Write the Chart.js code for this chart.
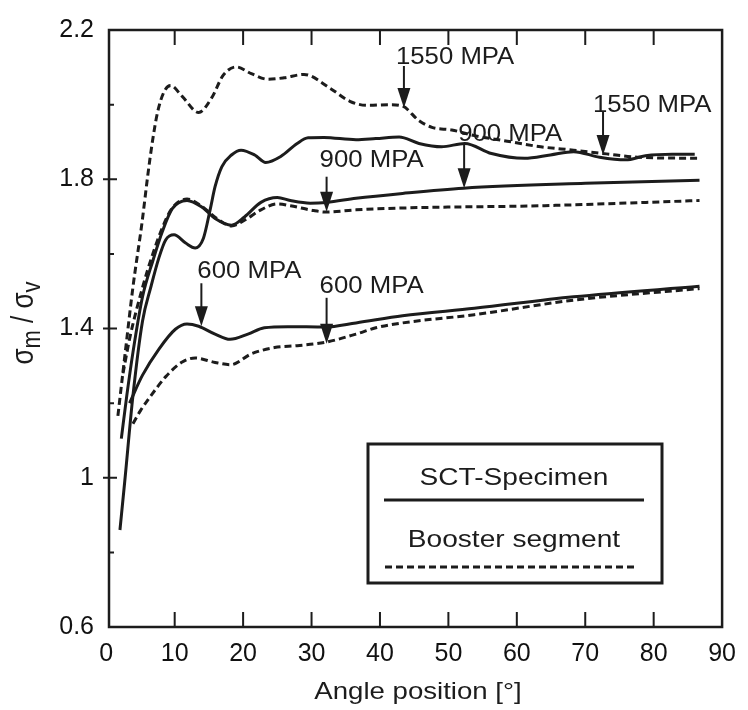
<!DOCTYPE html>
<html>
<head>
<meta charset="utf-8">
<script src="https://cdn.jsdelivr.net/npm/chart.js@4.4.1/dist/chart.umd.min.js"></script>
<style>
  html, body { margin: 0; padding: 0; background: #fff; }
  #wrap { width: 748px; height: 710px; }
</style>
</head>
<body>
<div id="wrap"><canvas id="chart" width="748" height="710"></canvas></div>
<script>
// SCT specimen, 1550 MPa
const sct1550Angle = [2.0, 2.7, 3.9, 5.3, 6.5, 7.7, 8.7, 9.9, 11.6, 13.0, 14.2, 15.2, 15.9, 16.9, 18.3, 19.7, 21.7, 23.3, 25.5, 27.9, 29.5, 31.8, 36.5, 39.4, 42.8, 45.7, 49.0, 52.4, 56.3, 61.1, 64.9, 68.3, 72.1, 75.9, 78.8, 82.7, 86.0];
const sct1550Ratio = [0.86, 0.99, 1.22, 1.42, 1.51, 1.59, 1.638, 1.651, 1.629, 1.616, 1.642, 1.72, 1.78, 1.834, 1.865, 1.878, 1.865, 1.845, 1.861, 1.896, 1.911, 1.912, 1.906, 1.909, 1.913, 1.896, 1.887, 1.896, 1.869, 1.856, 1.865, 1.874, 1.859, 1.852, 1.863, 1.867, 1.867];

// booster segment, 1550 MPa
const booster1550Angle = [1.7, 2.8, 3.9, 5.24, 6.05, 6.77, 7.49, 8.46, 9.42, 11.1, 13.5, 15.4, 17.1, 19.0, 21.2, 23.6, 26.0, 28.9, 32.7, 35.6, 38.2, 41.4, 43.3, 45.7, 47.6, 50.5, 53.8, 58.6, 63.5, 68.3, 73.1, 77.9, 86.7];
const booster1550Ratio = [1.166, 1.34, 1.511, 1.686, 1.808, 1.904, 1.979, 2.035, 2.051, 2.022, 1.979, 2.018, 2.079, 2.101, 2.083, 2.068, 2.072, 2.081, 2.044, 2.009, 1.998, 2.0, 1.996, 1.957, 1.939, 1.932, 1.917, 1.902, 1.887, 1.878, 1.868, 1.859, 1.856];

// SCT specimen, 900 MPa
const sct900Angle = [2.2, 3.0, 3.9, 5.3, 6.8, 8.2, 9.65, 11.8, 14.0, 15.9, 18.3, 20.2, 22.6, 25.0, 26.9, 29.8, 32.2, 36.5, 43.3, 52.2, 70.0, 86.7];
const sct900Ratio = [1.105, 1.22, 1.336, 1.485, 1.581, 1.66, 1.721, 1.743, 1.725, 1.695, 1.677, 1.699, 1.738, 1.751, 1.743, 1.736, 1.738, 1.749, 1.762, 1.776, 1.789, 1.797];

// booster segment, 900 MPa
const booster900Angle = [2.45, 3.5, 5.3, 6.8, 8.2, 9.6, 11.8, 14.0, 16.0, 18.3, 20.2, 22.6, 25.0, 26.9, 30.3, 32.2, 36.5, 43.3, 63.5, 86.7];
const booster900Ratio = [1.28, 1.38, 1.51, 1.6, 1.67, 1.722, 1.747, 1.727, 1.697, 1.675, 1.69, 1.718, 1.734, 1.729, 1.716, 1.712, 1.718, 1.723, 1.729, 1.743];

// SCT specimen, 600 MPa
const sct600Angle = [3.4, 5.3, 7.7, 10.1, 11.8, 13.5, 15.9, 18.1, 20.7, 23.1, 26.5, 32.0, 36.5, 43.3, 53.8, 68.3, 86.7];
const sct600Ratio = [1.2, 1.275, 1.345, 1.398, 1.412, 1.406, 1.385, 1.371, 1.385, 1.402, 1.405, 1.404, 1.415, 1.434, 1.454, 1.485, 1.513];

// booster segment, 600 MPa
const booster600Angle = [3.9, 5.0, 6.3, 8.7, 11.1, 13.0, 15.9, 18.2, 21.2, 24.6, 27.9, 32.0, 36.5, 39.4, 43.3, 53.8, 68.3, 86.7];
const booster600Ratio = [1.145, 1.18, 1.214, 1.271, 1.31, 1.321, 1.309, 1.303, 1.332, 1.349, 1.354, 1.363, 1.385, 1.402, 1.415, 1.437, 1.476, 1.507];

const xTickValues = [0, 10, 20, 30, 40, 50, 60, 70, 80, 90];
const yTickValues = [0.6, 1, 1.4, 1.8, 2.2];
const yMinorValues = [0.8, 1.2, 1.6, 2.0];

// pressure labels, arrow tip in data units
const noteText = ['1550 MPA', '1550 MPA', '900 MPA', '900 MPA', '600 MPA', '600 MPA'];
const noteAngle = [43.5, 72.6, 52.3, 32.2, 13.9, 32.2];
const noteRatio = [1.991, 1.865, 1.776, 1.713, 1.406, 1.359];

const legendText = ['SCT-Specimen', 'Booster segment'];

const INK = '#1c1c1c';
const FONT = '"Liberation Sans", Arial, Helvetica, sans-serif';
const DASH = [7, 4];

// arrow shaft length, label rise above the tip, label shift from the arrow (px)
const noteShaft = [42, 43, 44, 35, 43, 46];
const noteRise = [44, 43, 47, 45, 48, 51];
const noteShift = [-8, -10, -6, -7, -4, -7];

function toPoints(xs, ys) {
  return xs.map((x, i) => ({ x: x, y: ys[i] }));
}

function curve(xs, ys, dashed) {
  return {
    data: toPoints(xs, ys),
    borderColor: INK,
    borderWidth: 3,
    borderDash: dashed ? DASH : [],
    pointRadius: 0,
    fill: false,
    cubicInterpolationMode: 'monotone'
  };
}

// text drawn a bit wider than the font's natural width
function wideText(ctx, str, x, y, size, sx, align) {
  ctx.save();
  ctx.font = size + 'px ' + FONT;
  ctx.textBaseline = 'alphabetic';
  ctx.textAlign = align || 'left';
  ctx.translate(x, y);
  ctx.scale(sx, 1);
  ctx.fillText(str, 0, 0);
  ctx.restore();
}

const framePlugin = {
  id: 'frame',
  afterDatasetsDraw(chart) {
    const { ctx, chartArea: a, scales } = chart;
    const xs = scales.x, ys = scales.y;
    ctx.save();
    ctx.strokeStyle = INK;
    ctx.fillStyle = INK;

    // box around the plot
    ctx.lineWidth = 2.5;
    ctx.strokeRect(a.left, a.top, a.right - a.left, a.bottom - a.top);

    // inward ticks
    ctx.lineWidth = 2;
    ctx.beginPath();
    xTickValues.slice(1, -1).forEach(v => {
      const px = xs.getPixelForValue(v);
      ctx.moveTo(px, a.bottom); ctx.lineTo(px, a.bottom - 15);
      ctx.moveTo(px, a.top); ctx.lineTo(px, a.top + 15);
    });
    yTickValues.slice(1, -1).forEach(v => {
      const py = ys.getPixelForValue(v);
      ctx.moveTo(a.left - 6, py); ctx.lineTo(a.left + 8, py);
    });
    yMinorValues.forEach(v => {
      const py = ys.getPixelForValue(v);
      ctx.moveTo(a.left, py); ctx.lineTo(a.left + 5, py);
    });
    ctx.stroke();

    // pressure arrows and labels
    noteText.forEach((txt, i) => {
      const tx = xs.getPixelForValue(noteAngle[i]);
      const ty = ys.getPixelForValue(noteRatio[i]);
      ctx.lineWidth = 2;
      ctx.beginPath();
      ctx.moveTo(tx, ty - noteShaft[i]);
      ctx.lineTo(tx, ty - 18);
      ctx.stroke();
      ctx.beginPath();
      ctx.moveTo(tx - 6.5, ty - 20);
      ctx.lineTo(tx + 6.5, ty - 20);
      ctx.lineTo(tx, ty);
      ctx.closePath();
      ctx.fill();
      wideText(ctx, txt, tx + noteShift[i], ty - noteRise[i], 23, 1.12, 'left');
    });

    // legend box
    ctx.lineWidth = 3;
    ctx.strokeRect(368, 444, 294, 139);
    wideText(ctx, legendText[0], 514, 485, 24, 1.17, 'center');
    wideText(ctx, legendText[1], 514, 547, 24, 1.17, 'center');
    ctx.beginPath();
    ctx.moveTo(384, 500); ctx.lineTo(644, 500);
    ctx.stroke();
    ctx.setLineDash(DASH);
    ctx.beginPath();
    ctx.moveTo(385, 567); ctx.lineTo(638, 567);
    ctx.stroke();
    ctx.setLineDash([]);

    // axis titles
    wideText(ctx, 'Angle position [°]', 418, 699, 24, 1.15, 'center');

    ctx.save();
    ctx.translate(33, 323);
    ctx.rotate(-Math.PI / 2);
    ctx.scale(1, 1.2);
    const parts = [['σ', 0], ['m', 1], [' / ', 0], ['σ', 0], ['v', 1]];
    const size = p => (p[1] ? 22 : 26);
    let total = 0;
    parts.forEach(p => { ctx.font = size(p) + 'px ' + FONT; total += ctx.measureText(p[0]).width; });
    let cx = -total / 2;
    parts.forEach(p => {
      ctx.font = size(p) + 'px ' + FONT;
      ctx.fillText(p[0], cx, p[1] ? 5.5 : 0);
      cx += ctx.measureText(p[0]).width;
    });
    ctx.restore();

    ctx.restore();
  }
};

new Chart(document.getElementById('chart'), {
  type: 'line',
  data: {
    datasets: [
      curve(booster1550Angle, booster1550Ratio, true),
      curve(sct1550Angle, sct1550Ratio, false),
      curve(booster900Angle, booster900Ratio, true),
      curve(sct900Angle, sct900Ratio, false),
      curve(booster600Angle, booster600Ratio, true),
      curve(sct600Angle, sct600Ratio, false)
    ]
  },
  options: {
    responsive: false,
    devicePixelRatio: 1,
    animation: false,
    layout: { padding: { top: 17, right: 16, left: 0, bottom: 0 } },
    plugins: {
      legend: { display: false },
      tooltip: { enabled: false }
    },
    scales: {
      x: {
        type: 'linear',
        min: 0.4,
        max: 90,
        grid: { display: false, drawTicks: false },
        border: { display: false },
        ticks: {
          autoSkip: false,
          maxRotation: 0,
          padding: 12,
          color: '#111',
          font: { family: FONT, size: 25 },
          callback: v => String(v)
        },
        afterBuildTicks: s => { s.ticks = xTickValues.map(v => ({ value: v })); },
        afterFit: s => { s.height = 83; }
      },
      y: {
        min: 0.6,
        max: 2.2,
        grid: { display: false, drawTicks: false },
        border: { display: false },
        ticks: {
          padding: 15,
          color: '#111',
          font: { family: FONT, size: 25 },
          callback: v => String(v)
        },
        afterBuildTicks: s => { s.ticks = yTickValues.map(v => ({ value: v })); },
        afterFit: s => { s.width = 109; }
      }
    }
  },
  plugins: [framePlugin]
});
</script>
</body>
</html>
